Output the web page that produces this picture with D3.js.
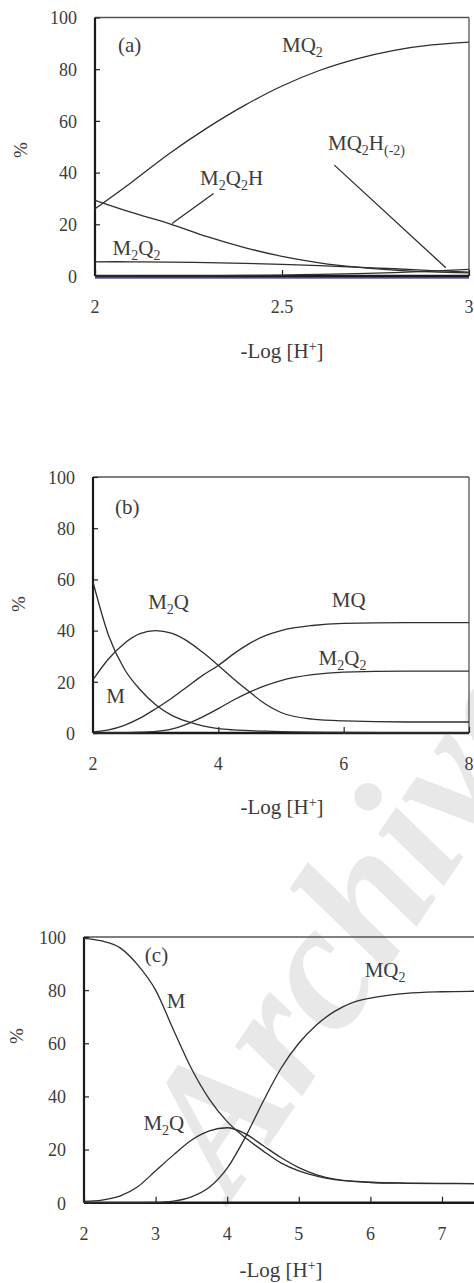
<!DOCTYPE html>
<html><head><meta charset="utf-8">
<script src="https://cdn.jsdelivr.net/npm/d3@7"></script>
<style>
html,body{margin:0;padding:0;background:#fff;}
svg{display:block;}
</style></head>
<body>
<svg id="chart" width="474" height="1283"></svg>
<script>
// ---------- Panel (a) data ----------
const xA = [2.0, 2.1, 2.2, 2.3, 2.4, 2.5, 2.6, 2.7, 2.8, 2.9, 3.0];
const aMQ2    = [26, 36.5, 47.5, 57.3, 66, 73.5, 79.5, 84, 87.3, 89.4, 90.5];
const aM2Q2H  = [29.3, 24.5, 20.2, 15.2, 11, 7.6, 5.1, 3.4, 2.3, 1.6, 1.2];
const aM2Q2   = [5.5, 5.5, 5.4, 5.2, 4.9, 4.5, 4.0, 3.4, 2.8, 2.1, 1.5];
const aMQ2Hm2 = [0, 0, 0.05, 0.1, 0.2, 0.35, 0.6, 0.9, 1.3, 1.9, 2.6];
const aBase   = [0, 0, 0, 0, 0, 0, 0, 0, 0, 0, 0];
const aTicksX = [2, 2.5, 3];
const aTickLabels = ["2", "2.5", "3"];

// ---------- Panel (b) data ----------
const xB = [2, 2.25, 2.5, 2.75, 3, 3.25, 3.5, 3.75, 4, 4.25, 4.5, 4.75, 5, 5.5, 6, 7, 8];
const bM    = [59, 38, 25, 17, 11, 7, 4.5, 2.8, 1.7, 1.2, 0.9, 0.7, 0.5, 0.3, 0.2, 0.1, 0.1];
const bM2Q  = [20.8, 29, 35, 38.8, 40, 39, 36, 31.5, 26.4, 21, 16, 11.3, 8, 5.4, 4.7, 4.3, 4.3];
const bMQ   = [0.4, 1.2, 3, 5.8, 9.5, 13.5, 18, 22.5, 26.4, 31, 35, 38, 40, 42, 42.8, 43.1, 43.1];
const bM2Q2 = [0, 0.05, 0.1, 0.3, 0.6, 1.5, 3.5, 6.3, 9.5, 13, 16, 18.5, 20.5, 22.8, 23.8, 24.2, 24.2];
const bTicksX = [2, 4, 6, 8];
const bTickLabels = ["2", "4", "6", "8"];

// ---------- Panel (c) data ----------
const xC = [2, 2.25, 2.5, 2.75, 3, 3.25, 3.5, 3.75, 4, 4.25, 4.5, 4.75, 5, 5.25, 5.5, 5.75, 6, 6.5, 7, 7.5, 8];
const cM   = [99.5, 98.5, 96, 89.5, 80, 65, 50.5, 39, 30.5, 24.5, 19.5, 15, 12, 10, 8.7, 8.1, 7.7, 7.4, 7.3, 7.2, 7.2];
const cM2Q = [0.5, 1, 2.5, 6, 12, 18, 23.5, 27, 28.2, 26, 21.5, 17, 13.2, 10.5, 8.9, 8.0, 7.6, 7.3, 7.2, 7.2, 7.2];
const cMQ2 = [0, 0, 0, 0.02, 0.1, 0.6, 2.2, 5.8, 13, 24.5, 38, 50.5, 60, 67, 72, 75.3, 77, 78.8, 79.4, 79.6, 79.7];
const cTicksX = [2, 3, 4, 5, 6, 7, 8];
const cTickLabels = ["2", "3", "4", "5", "6", "7", ""];

const yTicks = [0, 20, 40, 60, 80, 100];
const yTitle = "%";

const FONT = "'Liberation Serif', 'Times New Roman', Times, serif";
const INK = "#3c3c3c";

const svg = d3.select("#chart");

// Watermark
svg.append("text")
  .attr("transform", "translate(232,1200) rotate(-56)")
  .attr("font-family", FONT)
  .attr("font-size", 182).attr("font-style", "italic").attr("font-weight", "bold")
  .attr("fill", "#e8e8e8")
  .text("Archive of SID");

function label(g, x, y, parts, size) {
  const t = g.append("text").attr("x", x).attr("y", y)
    .attr("font-family", FONT).attr("font-size", size).attr("fill", INK);
  let shifted = false;
  parts.forEach(p => {
    if (typeof p === "string") {
      t.append("tspan").text(p).attr("dy", shifted ? -5 : 0);
      shifted = false;
    } else {
      t.append("tspan").text(p.sub).attr("font-size", Math.round(size * 0.68)).attr("dy", shifted ? 0 : 5);
      shifted = true;
    }
  });
  return t;
}

function panel(cfg) {
  const x = d3.scaleLinear().domain(cfg.xDomain).range([cfg.left, cfg.right]);
  const y = d3.scaleLinear().domain([0, 100]).range([cfg.bottom, cfg.top]);
  const g = svg.append("g");

  // frame: top and right lines
  g.append("line").attr("x1", x(cfg.xDomain[0])).attr("x2", x(cfg.xDomain[1]))
    .attr("y1", y(100)).attr("y2", y(100)).attr("stroke", "#555").attr("stroke-width", 1.3);
  g.append("line").attr("x1", x(cfg.xDomain[1])).attr("x2", x(cfg.xDomain[1]))
    .attr("y1", y(100)).attr("y2", y(0)).attr("stroke", "#555").attr("stroke-width", 1.3);

  // y axis (ticks inward)
  const yAx = g.append("g").attr("transform", `translate(${x(cfg.xDomain[0])},0)`)
    .call(d3.axisRight(y).tickValues(yTicks).tickSize(5).tickFormat(""));
  yAx.select(".domain").remove();
  yAx.selectAll(".tick line").attr("stroke", "#222").attr("stroke-width", 1.2);
  g.append("line").attr("x1", x(cfg.xDomain[0])).attr("x2", x(cfg.xDomain[0]))
    .attr("y1", y(100)).attr("y2", y(0)).attr("stroke", "#1a1a1a").attr("stroke-width", 2.2);
  yTicks.forEach(v => {
    g.append("text").attr("x", x(cfg.xDomain[0]) - 18).attr("y", y(v)).attr("dy", "0.38em")
      .attr("text-anchor", "end").attr("font-family", FONT).attr("font-size", 18).attr("fill", INK).text(v);
  });

  // x axis (ticks inward)
  const xAx = g.append("g").attr("transform", `translate(0,${y(0)})`)
    .call(d3.axisTop(x).tickValues(cfg.ticks).tickSize(6).tickFormat(""));
  xAx.select(".domain").remove();
  xAx.selectAll(".tick line").attr("stroke", "#222").attr("stroke-width", 1.2);

  // series
  const line = d3.line().x(d => x(d[0])).y(d => y(d[1])).curve(cfg.curve || d3.curveMonotoneX);
  (cfg.under || []).forEach(s => {
    g.append("path").datum(cfg.xs.map((v, i) => [v, s.v[i]]))
      .attr("d", line).attr("fill", "none").attr("stroke", s.color).attr("stroke-width", s.w)
      .attr("transform", "translate(0,1.2)");
  });
  g.append("line").attr("x1", x(cfg.xDomain[0])).attr("x2", x(cfg.xDomain[1]))
    .attr("y1", y(0)).attr("y2", y(0)).attr("stroke", "#1a1a1a").attr("stroke-width", 2.4);
  cfg.series.forEach(s => {
    g.append("path").datum(cfg.xs.map((v, i) => [v, s[i]]))
      .attr("d", line).attr("fill", "none").attr("stroke", "#2e2e2e").attr("stroke-width", 1.3);
  });

  cfg.ticks.forEach((t, i) => {
    if (!cfg.tickLabels[i]) return;
    g.append("text").attr("x", x(t)).attr("y", y(0) + 37).attr("text-anchor", "middle")
      .attr("font-family", FONT).attr("font-size", 18).attr("fill", INK).text(cfg.tickLabels[i]);
  });

  // axis titles
  const xt = g.append("text").attr("x", cfg.xtX).attr("y", cfg.xtY).attr("text-anchor", "middle")
    .attr("font-family", FONT).attr("font-size", 21).attr("fill", INK);
  xt.append("tspan").text("-Log [H");
  xt.append("tspan").text("+").attr("font-size", 14).attr("dy", -7);
  xt.append("tspan").text("]").attr("dy", 7);
  g.append("text").attr("transform", `translate(${cfg.ytX},${cfg.ytY}) rotate(-90)`)
    .attr("text-anchor", "middle").attr("font-family", FONT).attr("font-size", 19).attr("fill", INK)
    .text(yTitle);

  // annotations
  cfg.labels.forEach(l => label(g, x(l.x), y(l.y), l.parts, 21));
  (cfg.leaders || []).forEach(l => {
    g.append("line").attr("x1", x(l[0])).attr("y1", y(l[1])).attr("x2", x(l[2])).attr("y2", y(l[3]))
      .attr("stroke", "#2e2e2e").attr("stroke-width", 1.3);
  });
}

panel({
  xDomain: [2, 3], left: 95, right: 469, top: 17.5, bottom: 276,
  xs: xA, series: [aM2Q2, aM2Q2H, aMQ2Hm2, aMQ2],
  curve: d3.curveCatmullRom.alpha(0.5),
  under: [{ v: aBase, color: "#5c5c9c", w: 3 }],
  ticks: aTicksX, tickLabels: aTickLabels,
  xtX: 282, xtY: 358, ytX: 27, ytY: 150,
  labels: [
    { x: 2.0615, y: 86.5, parts: ["(a)"] },
    { x: 2.5, y: 86.5, parts: ["MQ", { sub: "2" }] },
    { x: 2.623, y: 48.6, parts: ["MQ", { sub: "2" }, "H", { sub: "(-2)" }] },
    { x: 2.281, y: 35.1, parts: ["M", { sub: "2" }, "Q", { sub: "2" }, "H"] },
    { x: 2.047, y: 8.1, parts: ["M", { sub: "2" }, "Q", { sub: "2" }] }
  ],
  leaders: [[2.64, 42.9, 2.938, 3.2], [2.317, 31.9, 2.206, 20.3]]
});

panel({
  xDomain: [2, 8], left: 93, right: 469, top: 477, bottom: 733,
  xs: xB, series: [bM, bM2Q, bMQ, bM2Q2],
  ticks: bTicksX, tickLabels: bTickLabels,
  xtX: 282, xtY: 814, ytX: 25, ytY: 604,
  labels: [
    { x: 2.35, y: 85.5, parts: ["(b)"] },
    { x: 2.88, y: 48.4, parts: ["M", { sub: "2" }, "Q"] },
    { x: 5.81, y: 49.3, parts: ["MQ"] },
    { x: 5.6, y: 26.6, parts: ["M", { sub: "2" }, "Q", { sub: "2" }] },
    { x: 2.21, y: 11.6, parts: ["M"] }
  ]
});

panel({
  xDomain: [2, 8], left: 84, right: 513.6, top: 937, bottom: 1202.7,
  xs: xC, series: [cM, cM2Q, cMQ2],
  ticks: cTicksX, tickLabels: cTickLabels,
  xtX: 281, xtY: 1277, ytX: 23, ytY: 1036,
  labels: [
    { x: 2.85, y: 90.7, parts: ["(c)"] },
    { x: 5.92, y: 84.9, parts: ["MQ", { sub: "2" }] },
    { x: 3.155, y: 73.3, parts: ["M"] },
    { x: 2.83, y: 27.4, parts: ["M", { sub: "2" }, "Q"] }
  ]
});
</script>
</body></html>
